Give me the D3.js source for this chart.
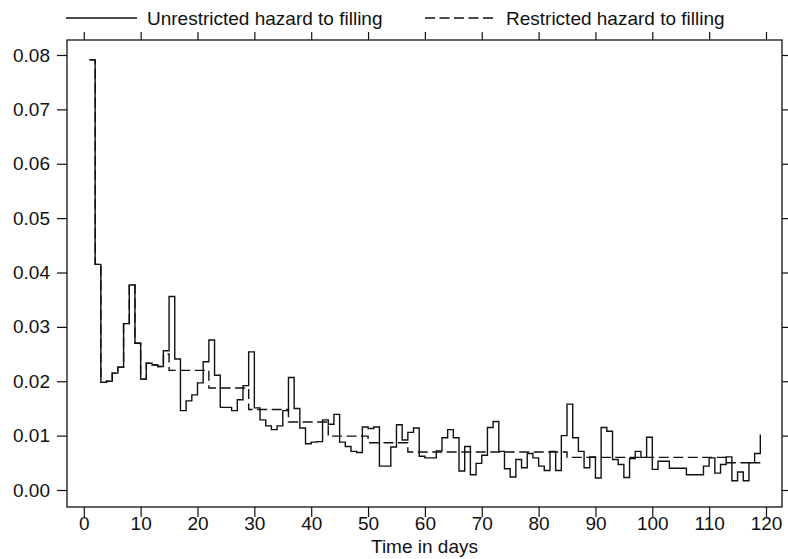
<!DOCTYPE html>
<html><head><meta charset="utf-8">
<script src="https://cdn.jsdelivr.net/npm/d3@7"></script>
<style>
body{margin:0;background:#fff}
text{font-family:"Liberation Sans",Arial,Helvetica,sans-serif}
</style>
</head><body><svg id="chart" width="788" height="559"></svg>
<script>
// ---- data ----
const days = [1,2,3,4,5,6,7,8,9,10,11,12,13,14,15,16,17,18,19,20,
  21,22,23,24,25,26,27,28,29,30,31,32,33,34,35,36,37,38,39,40,
  41,42,43,44,45,46,47,48,49,50,51,52,53,54,55,56,57,58,59,60,
  61,62,63,64,65,66,67,68,69,70,71,72,73,74,75,76,77,78,79,80,
  81,82,83,84,85,86,87,88,89,90,91,92,93,94,95,96,97,98,99,100,
  101,102,103,104,105,106,107,108,109,110,111,112,113,114,115,116,117,118,119];
const unrestricted = [0.0791,0.0415,0.0198,0.0200,0.0215,0.0226,0.0306,0.0377,0.0270,0.0204,
  0.0233,0.0230,0.0227,0.0256,0.0356,0.0241,0.0146,0.0164,0.0175,0.0197,
  0.0236,0.0276,0.0211,0.0152,0.0152,0.0146,0.0166,0.0192,0.0254,0.0151,
  0.0129,0.0118,0.0111,0.0118,0.0146,0.0207,0.0150,0.0114,0.0085,0.0088,
  0.0089,0.0129,0.0121,0.0139,0.0088,0.0080,0.0071,0.0069,0.0116,0.0113,
  0.0116,0.0044,0.0044,0.0079,0.0120,0.0092,0.0106,0.0114,0.0062,0.0059,
  0.0059,0.0072,0.0096,0.0111,0.0096,0.0035,0.0080,0.0028,0.0049,0.0064,
  0.0115,0.0126,0.0071,0.0039,0.0024,0.0056,0.0041,0.0067,0.0059,0.0044,
  0.0036,0.0071,0.0036,0.0100,0.0158,0.0096,0.0071,0.0041,0.0061,0.0022,
  0.0115,0.0108,0.0056,0.0047,0.0023,0.0058,0.0071,0.0060,0.0097,0.0038,
  0.0053,0.0053,0.0040,0.0040,0.0040,0.0028,0.0028,0.0028,0.0044,0.0059,
  0.0031,0.0047,0.0061,0.0017,0.0033,0.0017,0.0050,0.0067,0.0102];
const restrictedDays = [1,2,3,4,5,6,7,8,9,10,11,12,13,14,15,22,29,36,43,50,57,85,113,119];
const restricted = [0.0791,0.0415,0.0198,0.0200,0.0215,0.0226,0.0306,0.0377,0.0270,0.0204,
  0.0233,0.0230,0.0227,0.0250,0.0220,0.01875,0.0148,0.0125,0.0099,0.0087,0.0070,0.0060,0.0050,0.0050];
const xTicks = [0,10,20,30,40,50,60,70,80,90,100,110,120];
const yTicks = [0,0.01,0.02,0.03,0.04,0.05,0.06,0.07,0.08];
const seriesNames = ["Unrestricted hazard to filling","Restricted hazard to filling"];
const xTitle = "Time in days";

// ---- layout ----
const svg = d3.select("#chart");
const frame = {left:67, right:782, top:40, bottom:507};
const x = d3.scaleLinear().domain([0,120]).range([83.8,766]);
const y = d3.scaleLinear().domain([0,0.08]).range([490,55]);
const FS = 19;
const ink = "#111";

// frame
svg.append("rect").attr("x",frame.left).attr("y",frame.top)
  .attr("width",frame.right-frame.left).attr("height",frame.bottom-frame.top)
  .attr("fill","none").attr("stroke",ink).attr("stroke-width",1.3);

function styleAxis(g){
  g.select(".domain").remove();
  g.selectAll("line").attr("stroke",ink).attr("stroke-width",1.2);
  g.selectAll("text").attr("fill",ink).style("font-size",FS+"px")
    .style("font-family",'"Liberation Sans",Arial,sans-serif');
}
svg.append("g").attr("transform",`translate(${frame.left},0)`)
  .call(d3.axisLeft(y).tickValues(yTicks).tickFormat(d3.format(".2f")).tickSize(10).tickPadding(7))
  .call(styleAxis);
svg.append("g").attr("transform",`translate(${frame.right},0)`)
  .call(d3.axisRight(y).tickValues(yTicks).tickFormat("").tickSize(10))
  .call(styleAxis);
svg.append("g").attr("transform",`translate(0,${frame.bottom})`)
  .call(d3.axisBottom(x).tickValues(xTicks).tickFormat(d3.format("d")).tickSize(10).tickPadding(0))
  .call(styleAxis);
svg.append("g").attr("transform",`translate(0,${frame.top})`)
  .call(d3.axisTop(x).tickValues(xTicks).tickFormat("").tickSize(8))
  .call(styleAxis);

svg.append("text").attr("x",(frame.left+frame.right)/2).attr("y",553)
  .attr("text-anchor","middle").style("font-size",FS+"px").attr("fill",ink).text(xTitle);

// lines
const line = d3.line().x(d=>x(d[0])).y(d=>y(d[1])).curve(d3.curveStepAfter);
const dash = "10,4.5";
svg.append("path").datum(restrictedDays.map((d,i)=>[d,restricted[i]]))
  .attr("d",line).attr("fill","none").attr("stroke",ink).attr("stroke-width",1.4)
  .attr("stroke-dasharray",dash);
svg.append("path").datum(days.map((d,i)=>[d,unrestricted[i]]))
  .attr("d",line).attr("fill","none").attr("stroke",ink).attr("stroke-width",1.4);

// legend
const leg = [
  {x1:66,x2:137,tx:147,dash:null,label:seriesNames[0]},
  {x1:425,x2:493,tx:506,dash:dash,label:seriesNames[1]}
];
leg.forEach(l=>{
  svg.append("line").attr("x1",l.x1).attr("x2",l.x2).attr("y1",18).attr("y2",18)
    .attr("stroke",ink).attr("stroke-width",1.3).attr("stroke-dasharray",l.dash);
  svg.append("text").attr("x",l.tx).attr("y",25).style("font-size",FS+"px").attr("fill",ink).text(l.label);
});
</script>
</body></html>
